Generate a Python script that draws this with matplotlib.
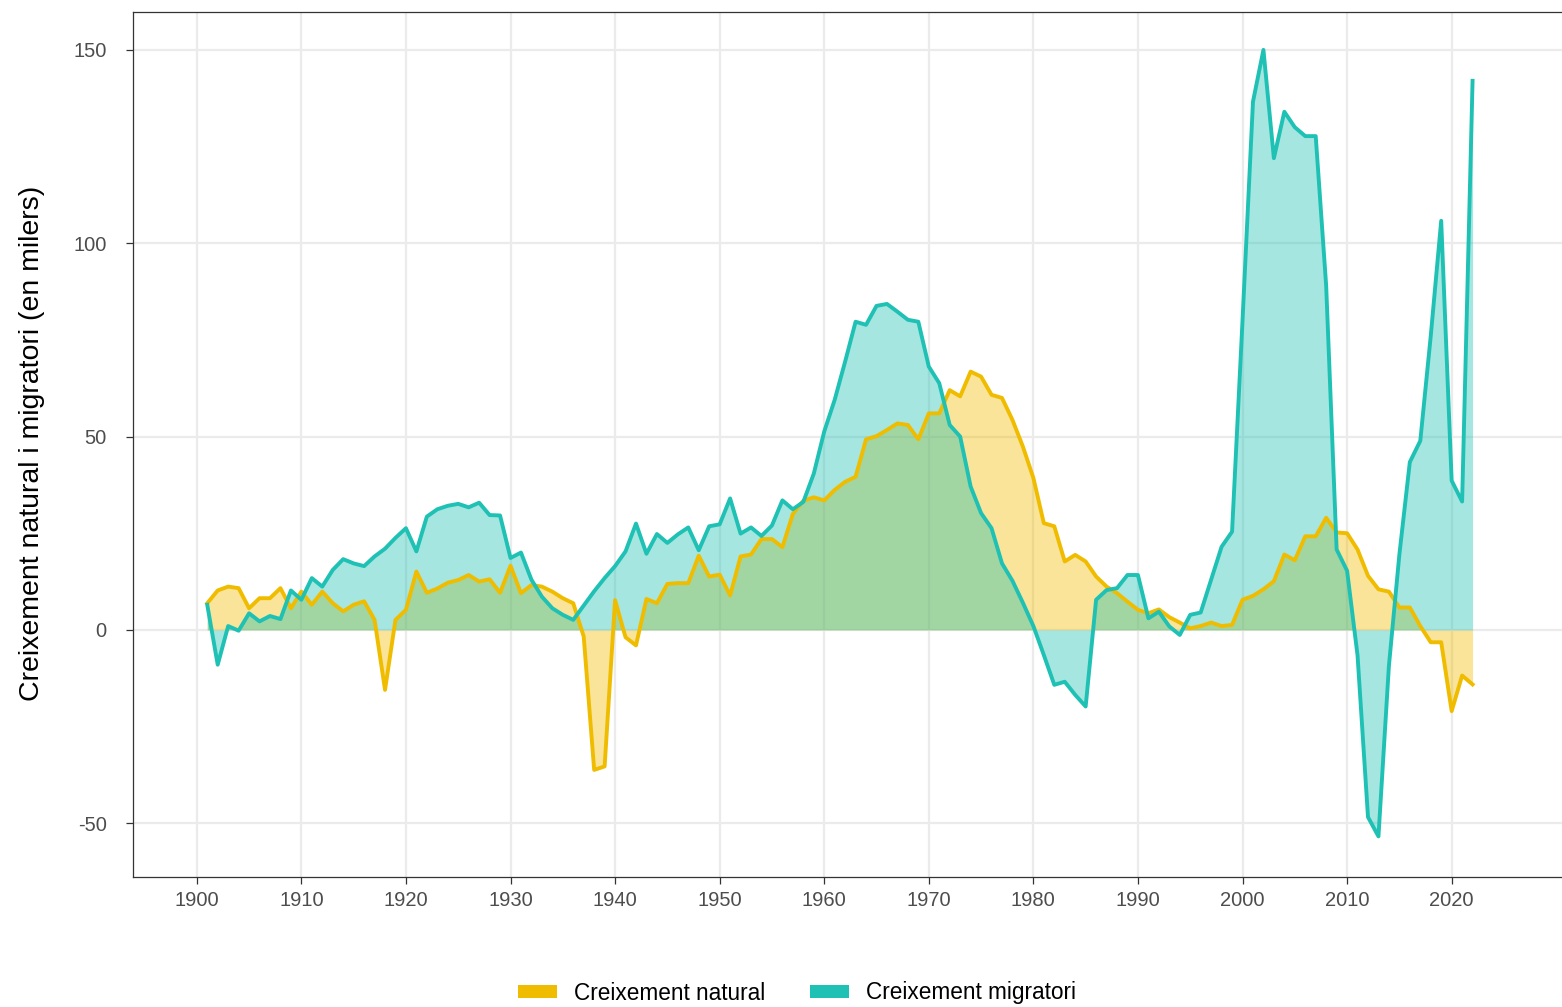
import matplotlib
matplotlib.use('Agg')
from matplotlib import pyplot as plt
from matplotlib.patches import Patch

plt.rcParams['font.family'] = ['Liberation Sans', 'DejaVu Sans']
plt.rcParams['axes.unicode_minus'] = False

###values, in thousands
years = list(range(1901, 2023))

natural = [6.9, 10.2, 11.2, 10.8, 5.6, 8.2, 8.2, 10.8, 5.6, 9.9,
           6.5, 9.9, 6.9, 4.8, 6.5, 7.4, 2.6, -15.5, 2.6, 5.2,
           15.1, 9.6, 10.7, 12.2, 12.9, 14.2, 12.5, 13.1, 9.6, 16.6,
           9.5, 11.6, 11.2, 9.9, 8.2, 6.9, -1.7, -36.2, -35.3, 7.7,
           -1.9, -4.0, 8.0, 6.9, 11.9, 12.1, 12.1, 19.2, 13.8, 14.3,
           8.9, 19.0, 19.5, 23.5, 23.5, 21.4, 30.0, 33.4, 34.3, 33.5,
           36.2, 38.3, 39.6, 49.3, 50.1, 51.7, 53.4, 53.0, 49.3, 56.0,
           56.0, 62.0, 60.4, 66.8, 65.5, 60.8, 60.0, 54.3, 47.4, 39.3,
           27.6, 26.8, 17.7, 19.4, 17.7, 13.8, 11.2, 9.5, 7.3, 5.2,
           4.3, 5.3, 3.3, 1.9, 0.4, 1.0, 1.9, 1.0, 1.3, 7.8,
           8.8, 10.5, 12.6, 19.5, 18.0, 24.2, 24.2, 29.0, 25.2, 25.0,
           20.8, 14.0, 10.5, 9.9, 5.8, 5.8, 1.0, -3.2, -3.2, -21.0,
           -11.8, -14.1]

migratori = [6.5, -9.0, 1.0, -0.2, 4.3, 2.2, 3.6, 2.8, 10.2, 7.8,
             13.4, 11.2, 15.5, 18.3, 17.2, 16.5, 19.0, 21.0, 23.8, 26.3,
             20.3, 29.3, 31.2, 32.1, 32.6, 31.7, 32.9, 29.7, 29.6, 18.6,
             20.0, 13.0, 8.6, 5.6, 3.9, 2.6, 6.3, 10.0, 13.4, 16.5,
             20.3, 27.5, 19.7, 24.8, 22.5, 24.7, 26.5, 20.6, 26.8, 27.3,
             34.0, 24.9, 26.5, 24.3, 27.0, 33.5, 31.2, 33.1, 40.4, 51.3,
             59.5, 69.4, 79.7, 78.9, 83.8, 84.3, 82.3, 80.2, 79.7, 68.1,
             63.8, 53.0, 50.0, 37.1, 30.2, 26.3, 17.2, 12.7, 7.0, 1.0,
             -6.5, -14.2, -13.4, -16.8, -19.8, 7.8, 10.3, 10.8, 14.2, 14.2,
             3.0, 4.7, 0.9, -1.3, 3.9, 4.5, 13.0, 21.5, 25.4, 80.0,
             136.6, 150.0, 122.0, 134.0, 130.0, 127.7, 127.7, 89.0, 20.8, 15.3,
             -6.6, -48.4, -53.4, -9.3, 19.5, 43.4, 48.9, 76.0, 105.8, 38.6,
             33.2, 142.0]

labels = ['Creixement natural', 'Creixement migratori']
colors = ['#F0BC00', '#1EC1B4']
xticks = list(range(1900, 2030, 10))
yticks = [-50, 0, 50, 100, 150]

fig = plt.figure(figsize=(15.62, 10.07), dpi=100)
ax = fig.add_axes([133/1562, 1-877/1007, 1.003-133/1562, 865/1007])

###areas first (teal over yellow gives the green overlap), then the lines
ax.fill_between(years, 0, natural, color=colors[0], alpha=0.4, linewidth=0, zorder=2)
ax.fill_between(years, 0, migratori, color=colors[1], alpha=0.4, linewidth=0, zorder=3)
ax.plot(years, natural, color=colors[0], lw=2.8, zorder=4)
ax.plot(years, migratori, color=colors[1], lw=2.8, zorder=5)

ax.set_xlim(1893.9, 2031.0)
ax.set_ylim(-63.9, 159.8)
ax.set_xticks(xticks)
ax.set_yticks(yticks)
ax.grid(True, color='#EBEBEB', lw=1.6, zorder=0)
ax.set_axisbelow(True)
for s in ax.spines.values():
    s.set_color('#333333')
    s.set_linewidth(0.9)
ax.tick_params(axis='both', colors='#333333', length=5, width=0.9,
               labelsize=14.5, labelcolor='#4D4D4D')
ax.tick_params(axis='y', pad=14)
ax.tick_params(axis='x', pad=5)

fig.text(32/1562, 1-443/1007, 'Creixement natural i migratori (en milers)',
         rotation=90, ha='center', va='center', fontsize=20.5, color='black')

handles = [Patch(facecolor=c, edgecolor='none') for c in colors]
fig.legend(handles, labels, loc='center', bbox_to_anchor=(797/1562, 1-993/1007),
           ncol=2, frameon=False, fontsize=16.3, handlelength=1.7, handleheight=0.55,
           columnspacing=2.0, handletextpad=0.75)

plt.savefig('out.png', dpi=100)
plt.close()
